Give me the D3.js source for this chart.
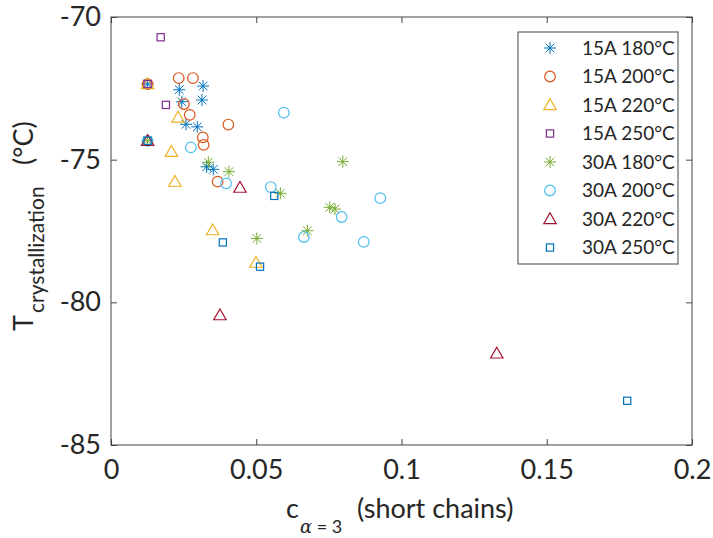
<!DOCTYPE html>
<html lang="en">

<head>
    <meta charset="UTF-8">
    <title>T crystallization vs short chains</title>
    <script src="https://d3js.org/d3.v7.min.js"></script>
    <style>
        body { margin: 0; background: #fff; }
        text { font-family: Lato, "Open Sans", sans-serif; fill: #262626; }
    </style>
</head>

<body>
    <svg id="chart" width="713" height="538"></svg>

    <script>
        // Series names (legend order)
        const seriesNames = ["15A 180°C", "15A 200°C", "15A 220°C", "15A 250°C",
                             "30A 180°C", "30A 200°C", "30A 220°C", "30A 250°C"];

        // Data: x = c(alpha=3), y = T crystallization
        const x15A180 = [0.0126, 0.0235, 0.0317, 0.0244, 0.0313, 0.0258, 0.0297, 0.0329, 0.0352];
        const y15A180 = [-72.35, -72.55, -72.42, -72.97, -72.91, -73.76, -73.85, -75.25, -75.34];

        const x15A200 = [0.0126, 0.0233, 0.0282, 0.0251, 0.0271, 0.0404, 0.0316, 0.0319, 0.0367];
        const y15A200 = [-72.35, -72.14, -72.14, -73.05, -73.43, -73.77, -74.22, -74.48, -75.77];

        const x15A220 = [0.0126, 0.0231, 0.0208, 0.0220, 0.0350, 0.0499];
        const y15A220 = [-72.35, -73.52, -74.72, -75.77, -77.47, -78.61];

        const x15A250 = [0.0126, 0.0171, 0.0189];
        const y15A250 = [-72.35, -70.71, -73.08];

        const x30A180 = [0.0126, 0.0335, 0.0406, 0.0583, 0.0798, 0.0753, 0.0771, 0.0676, 0.0502];
        const y30A180 = [-74.34, -75.09, -75.42, -76.18, -75.07, -76.67, -76.73, -77.49, -77.76];

        const x30A200 = [0.0126, 0.0595, 0.0275, 0.0396, 0.0550, 0.0927, 0.0794, 0.0664, 0.0870];
        const y30A200 = [-74.34, -73.35, -74.57, -75.83, -75.96, -76.35, -77.01, -77.71, -77.88];

        const x30A220 = [0.0126, 0.0444, 0.0375, 0.1328];
        const y30A220 = [-74.34, -75.98, -80.45, -81.79];

        const x30A250 = [0.0126, 0.0562, 0.0385, 0.0513, 0.1777];
        const y30A250 = [-74.34, -76.27, -77.90, -78.75, -83.45];

        const xTicks = [0, 0.05, 0.1, 0.15, 0.2];
        const yTicks = [-85, -80, -75, -70];

        const xs = [x15A180, x15A200, x15A220, x15A250, x30A180, x30A200, x30A220, x30A250];
        const ys = [y15A180, y15A200, y15A220, y15A250, y30A180, y30A200, y30A220, y30A250];
        const shapes = ["asterisk", "circle", "triangle", "square", "asterisk", "circle", "triangle", "square"];
        const colors = ["#0072BD", "#D95319", "#EDB120", "#7E2F8E", "#77AC30", "#4DBEEE", "#A2142F", "#0072BD"];

        // Plot box in pixels
        const plotLeft = 111, plotRight = 692, plotTop = 17, plotBottom = 445;

        const svg = d3.select("#chart");

        const xScale = d3.scaleLinear().domain([0, 0.2]).range([plotLeft, plotRight]);
        const yScale = d3.scaleLinear().domain([-85, -70]).range([plotBottom, plotTop]);

        // draw one marker centred at (cx, cy)
        function drawMarker(g, shape, color, cx, cy) {
            const m = g.append("g")
                .attr("transform", `translate(${cx},${cy})`)
                .attr("fill", "none")
                .attr("stroke", color)
                .attr("stroke-width", 1.2);
            if (shape === "circle") {
                m.append("circle").attr("r", 5.3);
            } else if (shape === "square") {
                m.append("rect").attr("x", -3.6).attr("y", -3.6).attr("width", 7.2).attr("height", 7.2);
            } else if (shape === "triangle") {
                m.append("path").attr("d", "M0,-6.2L6.2,4.6L-6.2,4.6Z");
            } else {
                const r = 6, d = 4.3;
                m.append("path")
                    .attr("stroke-width", 1)
                    .attr("d", `M${-r},0H${r}M0,${-r}V${r}M${-d},${-d}L${d},${d}M${-d},${d}L${d},${-d}`);
            }
        }

        // axes box
        svg.append("rect")
            .attr("x", plotLeft).attr("y", plotTop)
            .attr("width", plotRight - plotLeft).attr("height", plotBottom - plotTop)
            .attr("fill", "none").attr("stroke", "#444").attr("stroke-width", 1);

        const axisStyle = g => {
            g.select(".domain").remove();
            g.selectAll("line").attr("stroke", "#444");
            g.selectAll("text").style("font-size", "27px").attr("fill", "#262626");
        };

        // plain hyphen for negatives, like the original
        const fmt = d => String(d);

        svg.append("g")
            .attr("transform", `translate(0,${plotBottom})`)
            .call(d3.axisBottom(xScale).tickValues(xTicks).tickSizeInner(-6).tickSizeOuter(0)
                .tickPadding(15).tickFormat(fmt))
            .call(axisStyle);

        svg.append("g")
            .attr("transform", `translate(0,${plotTop})`)
            .call(d3.axisTop(xScale).tickValues(xTicks).tickSizeInner(-6).tickSizeOuter(0).tickFormat(""))
            .call(axisStyle);

        svg.append("g")
            .attr("transform", `translate(${plotLeft},0)`)
            .call(d3.axisLeft(yScale).tickValues(yTicks).tickSizeInner(-6).tickSizeOuter(0)
                .tickPadding(10).tickFormat(fmt))
            .call(axisStyle);

        svg.append("g")
            .attr("transform", `translate(${plotRight},0)`)
            .call(d3.axisRight(yScale).tickValues(yTicks).tickSizeInner(-6).tickSizeOuter(0).tickFormat(""))
            .call(axisStyle);

        // points, series in order so later ones sit on top
        const pts = svg.append("g");
        xs.forEach((xv, i) => {
            xv.forEach((x, j) => {
                drawMarker(pts, shapes[i], colors[i], xScale(x), yScale(ys[i][j]));
            });
        });

        // x label: c_{alpha = 3} (short chains)
        const xl = svg.append("g");
        xl.append("text").attr("x", 286).attr("y", 518).style("font-size", "27px").text("c");
        const sub = xl.append("text").attr("x", 300).attr("y", 533).style("font-size", "18px");
        sub.append("tspan").style("font-family", "'DejaVu Serif', serif").style("font-style", "italic").text("α");
        sub.append("tspan").text(" = 3");
        xl.append("text").attr("x", 357).attr("y", 518).style("font-size", "27px").text("(short chains)");

        // y label: T_crystallization (°C)
        const yl = svg.append("g").attr("transform", "translate(33,331) rotate(-90)");
        yl.append("text").attr("x", 0).attr("y", 0).style("font-size", "27px").text("T");
        yl.append("text").attr("x", 18).attr("y", 11).style("font-size", "21px").text("crystallization");
        yl.append("text").attr("x", 166).attr("y", 0).style("font-size", "27px").text("(°C)");

        // legend
        const lg = svg.append("g");
        lg.append("rect")
            .attr("x", 518).attr("y", 32).attr("width", 160).attr("height", 232)
            .attr("fill", "#fff").attr("stroke", "#444").attr("stroke-width", 1);
        seriesNames.forEach((name, i) => {
            const cy = 48 + i * 28.5;
            drawMarker(lg, shapes[i], colors[i], 550, cy);
            lg.append("text")
                .attr("x", 582).attr("y", cy).attr("dy", "0.35em")
                .style("font-size", "19px")
                .text(name);
        });
    </script>
</body>

</html>
